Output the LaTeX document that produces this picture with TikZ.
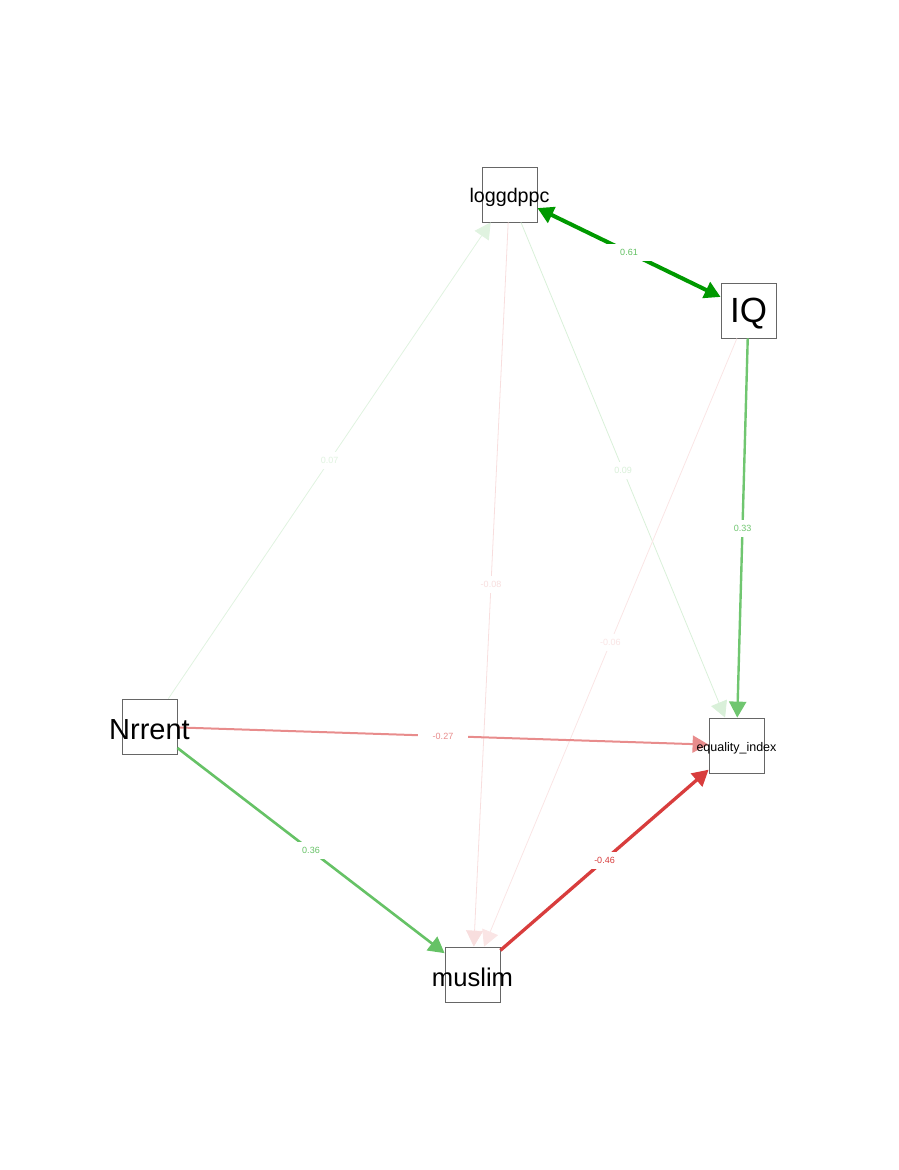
\documentclass[tikz,border=0pt]{standalone}
\usepackage{fontspec}
\setmainfont{Liberation Sans}
\usetikzlibrary{arrows.meta}
\definecolor{posc}{RGB}{0,153,0}
\definecolor{negc}{RGB}{204,0,0}
\newcommand{\vname}[2]{\fontsize{#1}{#1}\selectfont\makebox[0pt]{#2}}
\begin{document}
\begin{tikzpicture}[x=1pt,y=-1pt]
  \tikzstyle{var}=[draw=black!60,line width=0.8pt,minimum size=55pt,inner sep=0pt]
  \tikzstyle{vtext}=[inner sep=0pt,yshift=-3pt]
  \tikzstyle{est}=[-{Triangle[length=16pt,width=17pt]}]
  \tikzstyle{cov}=[{Triangle[length=16pt,width=17pt]}-{Triangle[length=16pt,width=17pt]}]
  \tikzstyle{lab}=[fill=white,font=\fontsize{9}{9}\selectfont,minimum width=50pt,minimum height=17pt,inner sep=0pt]
  \useasboundingbox (0,0) rectangle (899,1170);
  \node[var] (loggdppc) at (509.5,194.5) {};
  \node[var] (IQ) at (748.5,310.5) {};
  \node[var] (Nrrent) at (149.5,726.5) {};
  \node[var] (eqidx) at (736.5,745.5) {};
  \node[var] (muslim) at (472.5,974.5) {};
  \draw[est,posc!12,line width=0.8pt] (Nrrent) -- node[lab]{0.07} (loggdppc);
  \draw[est,negc!13,line width=0.8pt] (loggdppc) -- node[lab]{-0.08} (muslim);
  \draw[est,posc!15,line width=0.8pt] (loggdppc) -- node[lab]{0.09} (eqidx);
  \draw[est,negc!10,line width=0.8pt] (IQ) -- node[lab]{-0.06} (muslim);
  \draw[est,negc!45,line width=2pt] (Nrrent) -- node[lab]{-0.27} (eqidx);
  \draw[est,posc!56,line width=2.4pt] (IQ) -- node[lab]{0.33} (eqidx);
  \draw[est,posc!60,line width=2.6pt] (Nrrent) -- node[lab]{0.36} (muslim);
  \draw[est,negc!76,line width=3.3pt] (muslim) -- node[lab]{-0.46} (eqidx);
  \draw[cov,posc,line width=4pt] (loggdppc) -- node[lab,text=posc!62]{0.61} (IQ);
  \node[vtext] (loggdppc-t) at (loggdppc) {\vname{19.7}{loggdppc}};
  \node[vtext] (IQ-t) at (IQ) {\vname{35}{IQ}};
  \node[vtext] (Nrrent-t) at (Nrrent) {\vname{29}{Nrrent}};
  \node[vtext] (eqidx-t) at (eqidx) {\vname{12.5}{equality\_index}};
  \node[vtext] (muslim-t) at (muslim) {\vname{25.6}{muslim}};
\end{tikzpicture}
\end{document}
